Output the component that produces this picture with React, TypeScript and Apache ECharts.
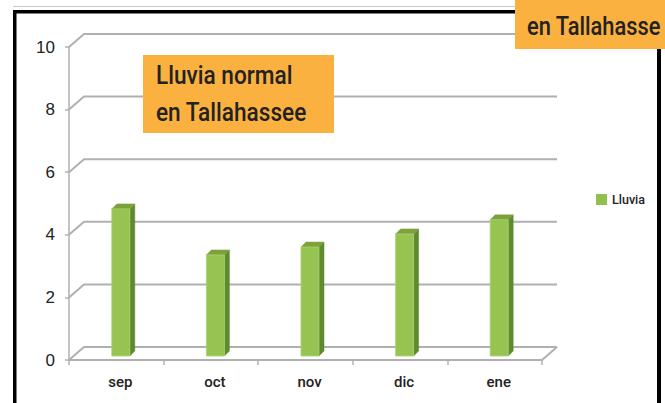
import React, { useEffect, useRef } from "react";
import * as echarts from "echarts";

const categories = ["sep", "oct", "nov", "dic", "ene"];
const lluvia = [4.7, 3.23, 3.48, 3.9, 4.35];
const yTicks = [0, 2, 4, 6, 8, 10];
const seriesName = "Lluvia";
const titleLines = ["Lluvia normal", "en Tallahassee"];
const cornerText = "en Tallahasse";

const GRID = "#b0b0b0";
const DX = 15; // depth offset of back wall
const DY = 13;

export default function App() {
  const ref = useRef<HTMLDivElement>(null);
  useEffect(() => {
    if (!ref.current) return;
    const chart = echarts.init(ref.current, null, { renderer: "svg" });
    const option: any = {
      animation: false,
      backgroundColor: "#ffffff",
      grid: { left: 69, right: 123, top: 47, bottom: 43 },
      legend: {
        data: [seriesName],
        left: 591,
        top: 188,
        icon: "rect",
        itemWidth: 11,
        itemHeight: 11,
        itemGap: 4,
        textStyle: { fontFamily: "Roboto", fontWeight: 500, fontSize: 12.5, color: "#222" },
      },
      xAxis: {
        type: "category",
        data: categories,
        boundaryGap: true,
        axisLine: { show: true, lineStyle: { color: GRID, width: 2 } },
        axisTick: { show: true, length: 5, inside: false, lineStyle: { color: GRID, width: 1.5 } },
        axisLabel: {
          margin: 14,
          fontFamily: "Roboto",
          fontWeight: 500,
          fontSize: 15,
          color: "#222",
          padding: [0, 0, 0, 8],
        },
        splitLine: { show: false },
      },
      yAxis: {
        type: "value",
        min: 0,
        max: 10,
        interval: 2,
        axisLine: { show: true, lineStyle: { color: GRID, width: 1.5 } },
        axisTick: { show: true, length: 4, lineStyle: { color: GRID, width: 1.5 } },
        axisLabel: {
          margin: 14,
          fontFamily: "'Liberation Sans', Arial, sans-serif",
          fontSize: 17,
          color: "#222",
        },
        splitLine: { show: false },
      },
      series: [
        {
          type: "custom",
          name: "grid3d",
          silent: true,
          z: 1,
          data: yTicks.map((v) => [0, v]),
          renderItem: (params: any, api: any) => {
            const v = api.value(1);
            const bw = api.size([1, 0])[0];
            const p0 = api.coord([0, v]);
            const pN = api.coord([categories.length - 1, v]);
            const xl = p0[0] - bw / 2;
            const xr = pN[0] + bw / 2 + DX;
            const y = p0[1];
            const children: any[] = [
              {
                type: "polyline",
                shape: { points: [[xl, y], [xl + DX, y - DY], [xr, y - DY]] },
                style: { stroke: GRID, lineWidth: 2, fill: null },
              },
            ];
            if (v === 0) {
              children.push({
                type: "line",
                shape: { x1: xr - DX, y1: y, x2: xr, y2: y - DY },
                style: { stroke: GRID, lineWidth: 2 },
              });
            }
            return { type: "group", children };
          },
        },
        {
          type: "custom",
          name: seriesName,
          z: 3,
          itemStyle: { color: "#92C050" },
          data: lluvia.map((v, i) => [i, v]),
          renderItem: (params: any, api: any) => {
            const i = api.value(0);
            const v = api.value(1);
            const top = api.coord([i, v]);
            const base = api.coord([i, 0]);
            const cx = top[0];
            const l = cx - 4.5;
            const r = cx + 13.5;
            const t = top[1] - 4;
            const b = base[1] - 4;
            const d = 5;
            return {
              type: "group",
              children: [
                {
                  type: "polygon",
                  shape: { points: [[r, t], [r + d, t - d], [r + d, b - d], [r, b]] },
                  style: { fill: "#5f8a2e", stroke: "#5f8a2e", lineWidth: 0.5 },
                },
                {
                  type: "polygon",
                  shape: { points: [[l, t], [l + d, t - d], [r + d, t - d], [r, t]] },
                  style: { fill: "#7da23c", stroke: "#7da23c", lineWidth: 0.5 },
                },
                {
                  type: "rect",
                  shape: { x: l, y: t, width: r - l, height: b - t },
                  style: { fill: "#97c353", stroke: "#a9d26a", lineWidth: 0.8 },
                },
              ],
            };
          },
        },
      ],
      graphic: [
        { type: "line", z: 100, shape: { x1: 13, y1: 6.5, x2: 515, y2: 6.5 }, style: { stroke: "#c8c8c8", lineWidth: 1 } },
        { type: "rect", z: 100, shape: { x: 13, y: 10, width: 502, height: 3.5 }, style: { fill: "#000" } },
        { type: "rect", z: 100, shape: { x: 13, y: 10, width: 3.5, height: 393 }, style: { fill: "#000" } },
        { type: "rect", z: 100, shape: { x: 657, y: 49, width: 4, height: 354 }, style: { fill: "#000" } },
        { type: "rect", z: 101, shape: { x: 515, y: 0, width: 150, height: 49 }, style: { fill: "#FBB13F" } },
        {
          type: "text",
          z: 102,
          x: 527,
          y: 26,
          scaleX: 0.84,
          style: {
            text: cornerText,
            fontFamily: "Roboto",
            fontWeight: 500,
            fontSize: 26,
            fill: "#222",
            verticalAlign: "middle",
          },
        },
        { type: "rect", z: 101, shape: { x: 143, y: 55, width: 191, height: 78 }, style: { fill: "#FBB13F" } },
        {
          type: "text",
          z: 102,
          x: 156,
          y: 75,
          scaleX: 0.87,
          style: {
            text: titleLines[0],
            fontFamily: "Roboto",
            fontWeight: 500,
            fontSize: 26,
            fill: "#222",
            verticalAlign: "middle",
          },
        },
        {
          type: "text",
          z: 102,
          x: 156,
          y: 112,
          scaleX: 0.87,
          style: {
            text: titleLines[1],
            fontFamily: "Roboto",
            fontWeight: 500,
            fontSize: 26,
            fill: "#222",
            verticalAlign: "middle",
          },
        },
      ],
    };
    chart.setOption(option);
    return () => chart.dispose();
  }, []);
  return (
    <div
      ref={ref}
      style={{ position: "fixed", left: 0, top: 0, width: 665, height: 403, background: "#fff" }}
    />
  );
}
